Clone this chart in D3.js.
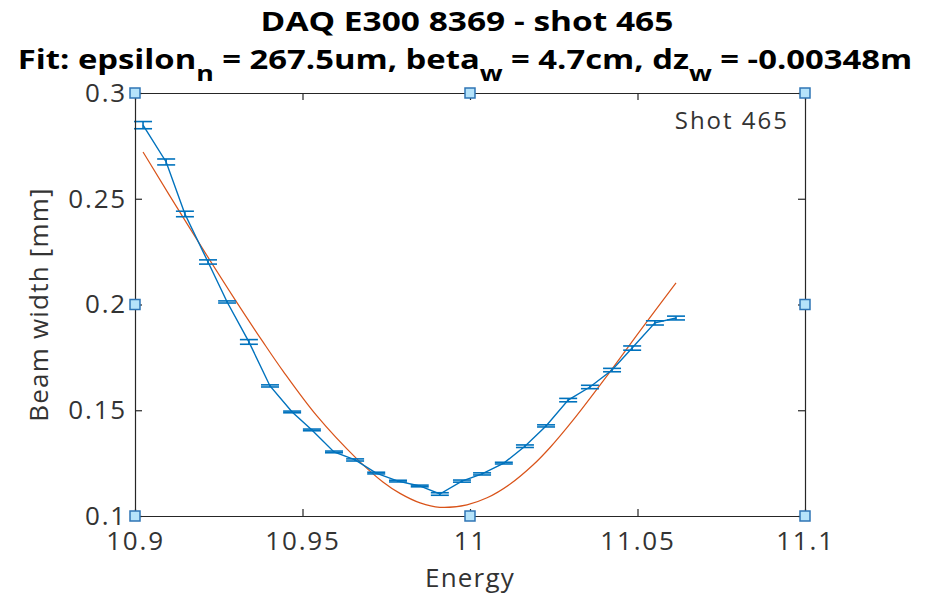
<!DOCTYPE html>
<html>
<head>
<meta charset="utf-8">
<script src="https://cdn.jsdelivr.net/npm/d3@7"></script>
<style>
	body { margin: 0; background: #fff; }
	svg { display: block; font-family: "Open Sans", sans-serif; }
</style>
</head>
<body>
<svg width="940" height="596"></svg>
<script>
// measured beam width per energy slice
var energy = [10.9024, 10.9093, 10.9149, 10.9218, 10.9275, 10.9340, 10.9403, 10.9469, 10.9528,
	10.9594, 10.9657, 10.9720, 10.9785, 10.9850, 10.9910, 10.9976, 11.0036, 11.0101, 11.0164,
	11.0227, 11.0293, 11.0358, 11.0424, 11.0484, 11.0552, 11.0615];
var beamWidth = [0.2848, 0.2674, 0.2428, 0.2201, 0.2012, 0.1823, 0.1615, 0.1492, 0.1407,
	0.1303, 0.1265, 0.1203, 0.1165, 0.1142, 0.1104, 0.1165, 0.1199, 0.1250, 0.1330,
	0.1426, 0.1548, 0.1610, 0.1690, 0.1794, 0.1913, 0.1936];
var widthErr = [0.0017, 0.0014, 0.0013, 0.0010, 0.0005, 0.0011, 0.0005, 0.0004, 0.0004,
	0.0004, 0.0005, 0.0004, 0.0004, 0.0004, 0.0006, 0.0005, 0.0005, 0.0004, 0.0006,
	0.0005, 0.0008, 0.0008, 0.0008, 0.0010, 0.0010, 0.0009];

// fit curve
var fitEnergy = [10.9024, 10.9158, 10.9299, 10.9382, 10.9442, 10.9543, 10.9663, 10.9740, 10.9791,
	10.9851, 10.9910, 10.9991, 11.0051, 11.0119, 11.0188, 11.0239, 11.0307, 11.0409, 11.0507, 11.0615];
var fitWidth = [0.2721, 0.2375, 0.2022, 0.1823, 0.1685, 0.1473, 0.1269, 0.1161, 0.1107,
	0.1062, 0.1041, 0.1053, 0.1086, 0.1150, 0.1241, 0.1324, 0.1452, 0.1663, 0.1874, 0.2102];

var xTicks = [10.9, 10.95, 11, 11.05, 11.1];
var yTicks = [0.1, 0.15, 0.2, 0.25, 0.3];

var svg = d3.select("svg");
var mLeft = 135, mRight = 805, mTop = 93, mBottom = 516;

var x = d3.scaleLinear().domain([10.9, 11.1]).range([mLeft, mRight]);
var y = d3.scaleLinear().domain([0.1, 0.3]).range([mBottom, mTop]);

var axisColor = "#262626";

// title (the source text is drawn a bit wide)
var title = svg.append("g").attr("fill", "#000").attr("font-weight", "bold").attr("text-anchor", "middle");
title.append("text").attr("transform", "translate(467,31) scale(1.24,1)").attr("font-size", 27)
	.text("DAQ E300 8369 - shot 465");
var t2 = title.append("text").attr("transform", "translate(465,69) scale(1.215,1)").attr("font-size", 27);
t2.append("tspan").text("Fit: epsilon");
t2.append("tspan").attr("dy", 12).attr("font-size", 22).text("n");
t2.append("tspan").attr("dy", -12).text(" = 267.5um, beta");
t2.append("tspan").attr("dy", 12).attr("font-size", 22).text("w");
t2.append("tspan").attr("dy", -12).text(" = 4.7cm, dz");
t2.append("tspan").attr("dy", 12).attr("font-size", 22).text("w");
t2.append("tspan").attr("dy", -12).text(" = -0.00348m");

// plot lines
var plot = svg.append("g");

plot.append("path")
	.datum(d3.range(fitEnergy.length))
	.attr("fill", "none")
	.attr("stroke", "#D95319")
	.attr("stroke-width", 1.2)
	.attr("d", d3.line()
		.curve(d3.curveCatmullRom)
		.x(function(i) { return x(fitEnergy[i]); })
		.y(function(i) { return y(fitWidth[i]); }));

var idx = d3.range(energy.length);

plot.append("path")
	.datum(idx)
	.attr("fill", "none")
	.attr("stroke", "#0072BD")
	.attr("stroke-width", 1.4)
	.attr("d", d3.line()
		.x(function(i) { return x(energy[i]); })
		.y(function(i) { return y(beamWidth[i]); }));

var bars = plot.append("g").attr("stroke", "#0072BD").attr("stroke-width", 1.6);
idx.forEach(function(i) {
	var cx = x(energy[i]), y0 = y(beamWidth[i] - widthErr[i]), y1 = y(beamWidth[i] + widthErr[i]);
	bars.append("line").attr("x1", cx).attr("x2", cx).attr("y1", y0).attr("y2", y1);
	bars.append("line").attr("x1", cx - 9).attr("x2", cx + 9).attr("y1", y0).attr("y2", y0);
	bars.append("line").attr("x1", cx - 9).attr("x2", cx + 9).attr("y1", y1).attr("y2", y1);
});

// axes box with ticks inside on all sides
var tickLen = 7;
svg.append("g").attr("transform", "translate(0," + mBottom + ")")
	.call(d3.axisBottom(x).tickValues(xTicks).tickSizeInner(-tickLen).tickSizeOuter(0).tickPadding(16)
		.tickFormat(d3.format("")));
svg.append("g").attr("transform", "translate(0," + mTop + ")")
	.call(d3.axisTop(x).tickValues(xTicks).tickSizeInner(-tickLen).tickSizeOuter(0).tickFormat(""));
svg.append("g").attr("transform", "translate(" + mLeft + ",0)")
	.call(d3.axisLeft(y).tickValues(yTicks).tickSizeInner(-tickLen).tickSizeOuter(0).tickPadding(8)
		.tickFormat(d3.format("")));
svg.append("g").attr("transform", "translate(" + mRight + ",0)")
	.call(d3.axisRight(y).tickValues(yTicks).tickSizeInner(-tickLen).tickSizeOuter(0).tickFormat(""));

svg.selectAll(".domain, .tick line").attr("stroke", axisColor).attr("stroke-width", 1.2);
svg.selectAll(".tick text").attr("fill", "#333").attr("font-size", 26)
	.attr("letter-spacing", 1.8)
	.attr("font-family", "'Open Sans', sans-serif");

// axis labels
svg.append("text").attr("x", 470).attr("y", 587).attr("text-anchor", "middle")
	.attr("font-size", 26).attr("letter-spacing", 1.2).attr("fill", "#333").text("Energy");
svg.append("text").attr("transform", "translate(48," + ((mTop + mBottom) / 2) + ") rotate(-90)")
	.attr("text-anchor", "middle").attr("font-size", 26).attr("letter-spacing", 1.2)
	.attr("fill", "#333").text("Beam width [mm]");

// shot label
svg.append("text").attr("x", 789).attr("y", 129).attr("text-anchor", "end")
	.attr("font-size", 24).attr("letter-spacing", 2).attr("fill", "#333").text("Shot 465");

// selection handles
var handles = [[10.9, 0.3], [11, 0.3], [11.1, 0.3], [10.9, 0.2], [11.1, 0.2], [10.9, 0.1], [11, 0.1], [11.1, 0.1]];
svg.append("g").selectAll("rect").data(handles).enter().append("rect")
	.attr("x", function(d) { return x(d[0]) - 5; })
	.attr("y", function(d) { return y(d[1]) - 5; })
	.attr("width", 10).attr("height", 10)
	.attr("fill", "#b5e3fa")
	.attr("stroke", "#2f75b5")
	.attr("stroke-width", 1.5);
</script>
</body>
</html>
